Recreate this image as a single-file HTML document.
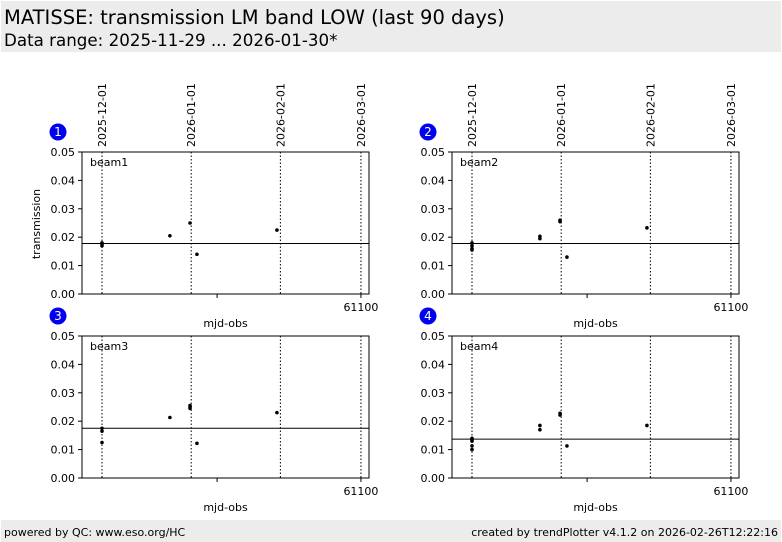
<!DOCTYPE html>
<html><head><meta charset="utf-8">
<style>
body{margin:0;width:782px;height:542px;background:#fff;font-family:"DejaVu Sans","Liberation Sans",sans-serif;overflow:hidden}
svg{display:block}
</style></head>
<body>
<svg id="c" width="782" height="542" viewBox="0 0 782 542">
<rect x="1" y="1" width="780" height="51" fill="#ececec"/>
<text x="4" y="24" font-size="19.5" fill="#000">MATISSE: transmission LM band LOW (last 90 days)</text>
<text x="4" y="46" font-size="16.7" fill="#000">Data range: 2025-11-29 ... 2026-01-30*</text>
<rect x="1" y="520" width="780" height="22" fill="#ececec"/>
<text x="4" y="536" font-size="11">powered by QC: www.eso.org/HC</text>
<text x="778" y="536" font-size="11" text-anchor="end">created by trendPlotter v4.1.2 on 2026-02-26T12:22:16</text>
</svg>
<script>
const beamNames=["beam1","beam2","beam3","beam4"];
const beam1X=[61010,61010,61010,61033.6,61040.6,61043,61070.8];
const beam1Y=[0.0175,0.018,0.017,0.0205,0.025,0.014,0.0225];
const beam2X=[61010,61010,61010,61010,61033.6,61033.6,61040.6,61040.6,61043,61070.8];
const beam2Y=[0.018,0.017,0.016,0.0155,0.0195,0.0203,0.026,0.0255,0.013,0.0233];
const beam3X=[61010,61010,61010,61033.6,61040.6,61040.6,61040.6,61043,61070.8];
const beam3Y=[0.0175,0.0165,0.0125,0.0213,0.0255,0.025,0.0245,0.0122,0.023];
const beam4X=[61010,61010,61010,61010,61010,61033.6,61033.6,61040.6,61040.6,61043,61070.8];
const beam4Y=[0.014,0.0135,0.013,0.0113,0.010,0.0185,0.017,0.0228,0.0222,0.0113,0.0185];
const refLines=[0.0178,0.0178,0.0175,0.0137];
const yTicks=[0,0.01,0.02,0.03,0.04,0.05];
const yTickLabels=["0.00","0.01","0.02","0.03","0.04","0.05"];
const dateMjd=[61010,61041,61072,61100];
const dateLabels=["2025-12-01","2026-01-01","2026-02-01","2026-03-01"];
const xTicks=[61050,61100];
const xTickLabels=["","61100"];
const xMin=61003.05,xMax=61102.8,yMin=0,yMax=0.05;
const allX=[beam1X,beam2X,beam3X,beam4X],allY=[beam1Y,beam2Y,beam3Y,beam4Y];
const svg=document.getElementById('c');
const NS="http://www.w3.org/2000/svg";
function mk(tag,attrs,parent,txt){const e=document.createElementNS(NS,tag);for(const k in attrs)e.setAttribute(k,attrs[k]);if(txt!==undefined)e.textContent=txt;(parent||svg).appendChild(e);return e;}
const panels=[[82,152],[452,152],[82,336],[452,336]];
const W=287,H=142;
panels.forEach((p,i)=>{
  const [L,T]=p;
  const sx=v=>L+(v-xMin)/(xMax-xMin)*W;
  const sy=v=>T+H-(v-yMin)/(yMax-yMin)*H;
  const g=mk('g',{});
  
  
  dateMjd.forEach((d,j)=>{
    const l=mk('line',{x1:sx(d),x2:sx(d),y1:T,y2:T+H,stroke:'#000','stroke-width':1,'stroke-dasharray':'1.5,2'},g);
    
    
    if(i<2){
      const x=sx(d)+4,y=T-5;
      const t=mk('text',{x:x,y:y,'font-size':11,transform:`rotate(-90 ${x} ${y})`},g,dateLabels[j]);
      
      
    }
  });
  const r=mk('rect',{x:L,y:T,width:W,height:H,fill:'none',stroke:'#000','stroke-width':1},g);
  
  
  yTicks.forEach((v,j)=>{
    mk('line',{x1:L-4,x2:L,y1:sy(v),y2:sy(v),stroke:'#000'},g);
    const t=mk('text',{x:L-7,y:sy(v)+4,'font-size':11,'text-anchor':'end'},g,yTickLabels[j]);
    
    
  });
  xTicks.forEach((v,j)=>{
    mk('line',{x1:sx(v),x2:sx(v),y1:T+H,y2:T+H+4,stroke:'#000'},g);
    const t=mk('text',{x:sx(v),y:T+H+17,'font-size':11,'text-anchor':'middle'},g,xTickLabels[j]);
    
    
  });
  const xl=mk('text',{x:L+W/2,y:T+H+33,'font-size':11,'text-anchor':'middle'},g,'mjd-obs');
  
  
  const bl=mk('text',{x:L+8,y:T+14,'font-size':11},g,beamNames[i]);
  
  
  const rl=mk('line',{x1:L,x2:L+W,y1:sy(refLines[i]),y2:sy(refLines[i]),stroke:'#000','stroke-width':1},g);
  
  
  allX[i].forEach((x,k)=>{
    const c=mk('circle',{cx:sx(x),cy:sy(allY[i][k]),r:1.8,fill:'#000'},g);
    
    
  });
  const bc=mk('circle',{cx:L-24,cy:T-20,r:8.5,fill:'#0000ee'},g);
  
  
  const bt=mk('text',{x:L-24,y:T-16,'font-size':12,fill:'#fff','text-anchor':'middle'},g,String(i+1));
  
  
});
const yl=mk('text',{x:40,y:224,'font-size':11,'text-anchor':'middle',transform:'rotate(-90 40 224)'},svg,'transmission');


</script>
</body></html>
